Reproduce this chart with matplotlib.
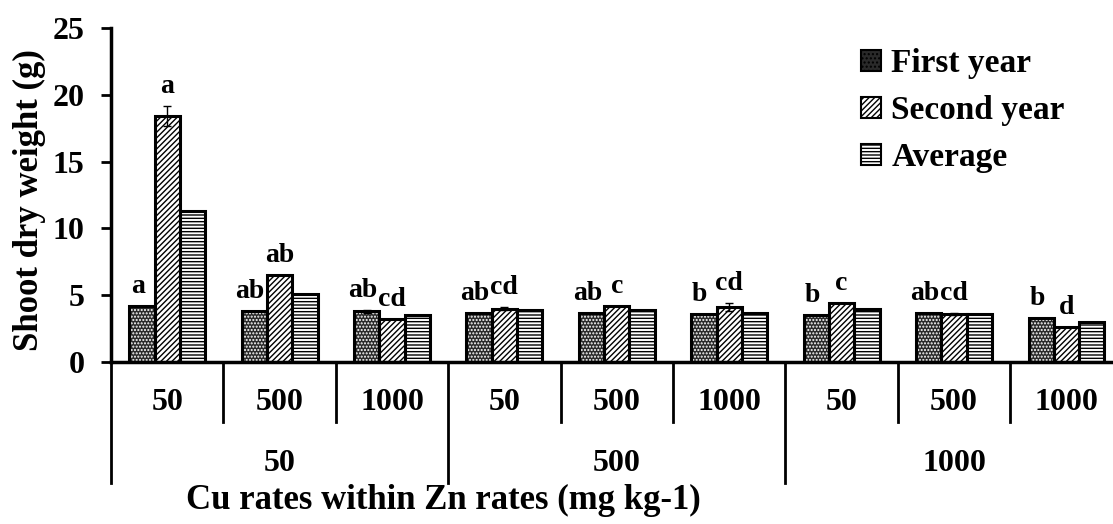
import numpy as np
import matplotlib
matplotlib.use('Agg')
import matplotlib.pyplot as plt
from matplotlib.patches import Patch
import matplotlib.transforms as mtransforms

plt.rcParams['font.family'] = ['Liberation Serif', 'DejaVu Serif']
plt.rcParams['font.weight'] = 'bold'
plt.rcParams['hatch.linewidth'] = 1.0

# data
zn_rates = ['50', '500', '1000']
cu_rates = ['50', '500', '1000'] * 3
first_year = [4.2, 3.8, 3.8, 3.7, 3.7, 3.6, 3.5, 3.7, 3.3]
second_year = [18.4, 6.5, 3.2, 4.0, 4.2, 4.1, 4.4, 3.6, 2.6]
average = [11.3, 5.1, 3.5, 3.9, 3.9, 3.7, 4.0, 3.6, 3.0]
first_err = [0.0, 0.0, 0.1, 0.0, 0.0, 0.0, 0.0, 0.0, 0.0]
second_err = [0.75, 0.0, 0.0, 0.1, 0.0, 0.3, 0.0, 0.05, 0.0]
first_letters = ['a', 'ab', 'ab', 'ab', 'ab', 'b', 'b', 'ab', 'b']
second_letters = ['a', 'ab', 'cd', 'cd', 'c', 'cd', 'c', 'cd', 'd']
series_names = ['First year', 'Second year', 'Average']

fig = plt.figure(figsize=(11.13, 5.24), dpi=100)
ax = fig.add_axes([0.0997, 0.309, 0.909, 0.6374])

x = np.arange(len(cu_rates))
w = 0.225
lw = 2.2

# first year: white dots on black
ax.bar(x - w, first_year, w, color='#2a2a2a', hatch='.....', edgecolor='white', linewidth=0, zorder=2)
ax.bar(x - w, first_year, w, fill=False, edgecolor='black', linewidth=lw, zorder=3)
# second year: diagonal
ax.bar(x, second_year, w, color='white', hatch='//////', edgecolor='black', linewidth=lw, zorder=2)
# average: horizontal lines
ax.bar(x + w, average, w, color='white', hatch='-----', edgecolor='black', linewidth=lw, zorder=2)

ax.errorbar(x - w, first_year, yerr=first_err, fmt='none', ecolor='black', elinewidth=1, capsize=3, zorder=4)
ax.errorbar(x, second_year, yerr=second_err, fmt='none', ecolor='black', elinewidth=1, capsize=3, zorder=4)

for i in range(len(x)):
    ax.annotate(first_letters[i], (x[i] - w, first_year[i] + first_err[i]), xytext=(-3, 5),
                textcoords='offset points', ha='center', va='bottom', fontsize=20, fontweight='bold')
    ax.annotate(second_letters[i], (x[i], second_year[i] + second_err[i]), xytext=(0, 5),
                textcoords='offset points', ha='center', va='bottom', fontsize=20, fontweight='bold')

ax.set_xlim(-0.5, len(x) - 0.5)
ax.set_ylim(0, 25)
ax.set_yticks([0, 5, 10, 15, 20, 25])
ax.tick_params(axis='y', direction='out', length=7, width=2, labelsize=23, pad=12)
ax.set_xticks([])
for s in ['top', 'right']:
    ax.spines[s].set_visible(False)
ax.spines['left'].set_linewidth(2.5)
ax.spines['bottom'].set_linewidth(2.5)
fig.text(29 / 1113, 0.618, 'Shoot dry weight (g)', rotation=90, ha='center', va='center',
         fontsize=25, fontweight='bold')

# two-level category axis
trans = mtransforms.blended_transform_factory(ax.transData, ax.transAxes)
for b in np.arange(len(x) + 1) - 0.5:
    bottom = -0.362 if (b + 0.5) % 3 == 0 else -0.18
    ax.plot([b, b], [0, bottom], color='black', lw=2, transform=trans, clip_on=False)
for i, lab in enumerate(cu_rates):
    ax.text(x[i], -0.12, lab, transform=trans, ha='center', va='center', fontsize=23, fontweight='bold')
for j, lab in enumerate(zn_rates):
    ax.text(3 * j + 1, -0.305, lab, transform=trans, ha='center', va='center', fontsize=23, fontweight='bold')
ax.text(0.329, -0.413, 'Cu rates within Zn rates (mg kg-1)', transform=ax.transAxes,
        ha='center', va='center', fontsize=25, fontweight='bold')

handles = [Patch(facecolor='#2a2a2a', hatch='....', edgecolor='black', linewidth=1.5),
           Patch(facecolor='white', hatch='//////', edgecolor='black', linewidth=1.5),
           Patch(facecolor='white', hatch='-----', edgecolor='black', linewidth=1.5)]
ax.legend(handles, series_names, loc='upper left', bbox_to_anchor=(0.722, 1.0), frameon=False,
          handlelength=0.6, handleheight=0.6, handletextpad=0.3, labelspacing=0.48,
          borderpad=0.1, prop={'weight': 'bold', 'size': 24})

fig.savefig('out.png', dpi=100)
